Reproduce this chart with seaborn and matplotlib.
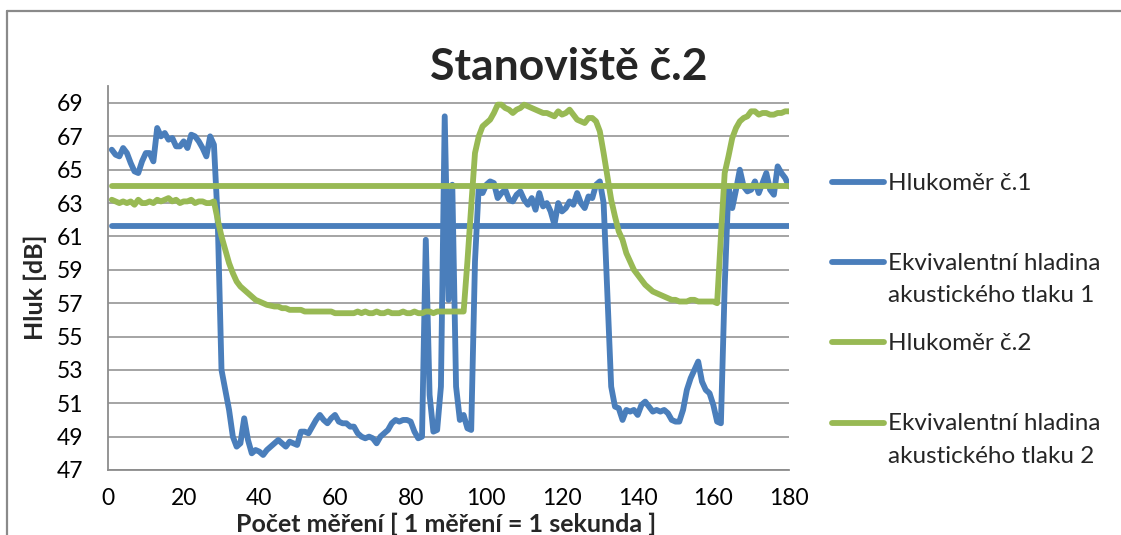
import numpy as np
import pandas as pd
import matplotlib
matplotlib.use("Agg")
import matplotlib.pyplot as plt
from matplotlib.lines import Line2D
import seaborn as sns

# Measurement index (1 measurement = 1 second)
seconds = list(range(1, 181))

# Sound level meter no. 1 [dB]
meter1 = [
    66.2, 65.9, 65.8, 66.3, 66.0, 65.4, 64.9, 64.8, 65.5, 66.0,
    66.0, 65.5, 67.5, 67.0, 67.2, 66.8, 66.9, 66.4, 66.4, 66.7,
    66.3, 67.1, 67.0, 66.7, 66.3, 65.8, 67.0, 66.5, 62.0, 53.0,
    51.8, 50.6, 49.0, 48.4, 48.6, 50.1, 48.8, 48.0, 48.2, 48.1,
    47.9, 48.2, 48.4, 48.6, 48.8, 48.6, 48.4, 48.7, 48.6, 48.5,
    49.3, 49.3, 49.2, 49.6, 50.0, 50.3, 50.0, 49.8, 50.1, 50.3,
    49.9, 49.8, 49.8, 49.6, 49.6, 49.2, 49.0, 48.9, 49.0, 48.9,
    48.6, 49.0, 49.2, 49.4, 49.8, 50.0, 49.9, 50.0, 50.0, 49.9,
    49.3, 48.9, 49.0, 60.8, 51.5, 49.3, 49.4, 52.0, 68.2, 57.2,
    64.1, 52.0, 50.0, 50.3, 49.5, 49.4, 59.5, 64.0, 63.6, 64.1,
    64.3, 64.2, 63.3, 63.6, 63.8, 63.2, 63.1, 63.5, 63.7, 63.2,
    62.9, 63.3, 62.6, 63.6, 62.8, 63.0, 62.5, 61.7, 63.0, 62.5,
    62.7, 63.1, 62.9, 63.6, 63.0, 62.7, 63.4, 63.3, 64.1, 64.3,
    63.0, 57.5, 52.0, 50.8, 50.7, 50.0, 50.6, 50.5, 50.6, 50.3,
    50.9, 51.1, 50.8, 50.5, 50.6, 50.5, 50.6, 50.4, 50.0, 49.9,
    49.9, 50.6, 51.8, 52.5, 53.0, 53.5, 52.3, 51.8, 51.6, 50.9,
    49.9, 49.8, 58.0, 64.0, 62.7, 63.8, 65.0, 64.0, 63.7, 63.8,
    64.3, 63.6, 64.2, 64.8, 63.8, 63.5, 65.2, 64.8, 64.5, 64.0,
]

# Sound level meter no. 2 [dB]
meter2 = [
    63.2, 63.1, 63.0, 63.1, 63.0, 63.1, 62.9, 63.2, 63.0, 63.0,
    63.1, 63.0, 63.2, 63.1, 63.2, 63.3, 63.1, 63.2, 63.0, 63.1,
    63.1, 63.2, 63.0, 63.1, 63.1, 63.0, 63.0, 63.1, 62.0, 61.0,
    60.2, 59.4, 58.8, 58.3, 58.0, 57.8, 57.6, 57.4, 57.2, 57.1,
    57.0, 56.9, 56.85, 56.8, 56.8, 56.7, 56.7, 56.6, 56.6, 56.6,
    56.6, 56.5, 56.5, 56.5, 56.5, 56.5, 56.5, 56.5, 56.5, 56.4,
    56.4, 56.4, 56.4, 56.4, 56.4, 56.5, 56.4, 56.5, 56.4, 56.4,
    56.5, 56.4, 56.4, 56.5, 56.4, 56.4, 56.4, 56.5, 56.4, 56.4,
    56.5, 56.4, 56.4, 56.5, 56.5, 56.4, 56.5, 56.5, 56.5, 56.5,
    56.5, 56.5, 56.5, 56.5, 59.5, 62.8, 66.0, 67.0, 67.6, 67.8,
    68.0, 68.4, 68.9, 68.9, 68.7, 68.6, 68.4, 68.6, 68.7, 68.9,
    68.8, 68.7, 68.6, 68.5, 68.4, 68.4, 68.3, 68.2, 68.5, 68.3,
    68.4, 68.6, 68.3, 68.0, 67.9, 67.8, 68.1, 68.1, 67.9, 67.3,
    66.0, 64.6, 63.2, 62.2, 61.3, 60.8, 60.0, 59.5, 59.0, 58.7,
    58.4, 58.1, 57.9, 57.7, 57.6, 57.5, 57.4, 57.3, 57.2, 57.2,
    57.1, 57.1, 57.1, 57.2, 57.2, 57.1, 57.1, 57.1, 57.1, 57.1,
    57.0, 61.0, 64.8, 65.8, 66.9, 67.5, 67.9, 68.1, 68.2, 68.5,
    68.5, 68.3, 68.4, 68.4, 68.3, 68.3, 68.4, 68.4, 68.5, 68.5,
]

# Equivalent continuous sound pressure levels [dB]
leq1 = 61.6
leq2 = 64.0

series_labels = [
    "Hlukoměr č.1",
    "Ekvivalentní hladina\nakustického tlaku 1",
    "Hlukoměr č.2",
    "Ekvivalentní hladina\nakustického tlaku 2",
]
y_ticks = list(range(47, 70, 2))
x_ticks = list(range(0, 181, 20))

BLUE = "#4a7ebb"
GREEN = "#98b954"
GRID = "#8c8c8c"
FONT = "Lato"

sns.set_theme(style="white")
plt.rcParams["font.family"] = [FONT, "DejaVu Sans"]

df = pd.DataFrame({
    "t": seconds,
    "m1": meter1,
    "leq1": [leq1] * len(seconds),
    "m2": meter2,
    "leq2": [leq2] * len(seconds),
})

fig = plt.figure(figsize=(11.21, 5.35), dpi=100)
ax = fig.add_axes([108 / 1121, 1 - 470 / 535, 681 / 1121, (470 - 86.3) / 535])

lw = 4.2
line_kw = dict(solid_capstyle="round", solid_joinstyle="round")
sns.lineplot(data=df, x="t", y="m1", color=BLUE, lw=lw, ax=ax, **line_kw)
sns.lineplot(data=df, x="t", y="leq1", color=BLUE, lw=lw, ax=ax, **line_kw)
sns.lineplot(data=df, x="t", y="m2", color=GREEN, lw=lw, ax=ax, **line_kw)
sns.lineplot(data=df, x="t", y="leq2", color=GREEN, lw=lw, ax=ax, **line_kw)

ax.set_xlim(0, 180)
ax.set_ylim(47, 70)
ax.set_xticks(x_ticks)
ax.set_yticks(y_ticks)
ax.yaxis.grid(True, color=GRID, lw=1.1)
ax.set_axisbelow(True)
for side in ("top", "right"):
    ax.spines[side].set_visible(False)
for side in ("left", "bottom"):
    ax.spines[side].set_color(GRID)
    ax.spines[side].set_linewidth(1.3)
ax.tick_params(axis="both", length=0, labelsize=16.5, colors="black")
ax.tick_params(axis="y", pad=18)
ax.tick_params(axis="x", pad=13)
ax.set_xlabel("")
ax.set_ylabel("")

# Axis titles
fig.text(446 / 1121, 1 - 524 / 535, "Počet měření [ 1 měření = 1 sekunda ]",
         ha="center", va="center", fontsize=18, fontweight="bold")
fig.text(35 / 1121, 1 - 287 / 535, "Hluk [dB]", rotation=90,
         ha="center", va="center", fontsize=18, fontweight="bold")

# Chart title
fig.text(569 / 1121, 1 - 80 / 535, "Stanoviště č.2", ha="center", va="baseline",
         fontsize=32, fontweight="bold")

# Legend on the right
legend_rows = [182, 262, 342, 423]
legend_colors = [BLUE, BLUE, GREEN, GREEN]
for row, color, label in zip(legend_rows, legend_colors, series_labels):
    yf = 1 - row / 535
    fig.add_artist(Line2D([832 / 1121, 884 / 1121], [yf, yf], color=color,
                          lw=lw, solid_capstyle="round", transform=fig.transFigure))
    fig.text(888 / 1121, yf + 9.5 / 535, label, ha="left", va="top",
             fontsize=17.5, linespacing=1.65)

# Chart area border
fig.add_artist(Line2D([7 / 1121, 7 / 1121], [0, 1 - 10.5 / 535], color="#8a8a8a",
                      lw=1.6, transform=fig.transFigure))
fig.add_artist(Line2D([7 / 1121, 1], [1 - 10.5 / 535, 1 - 10.5 / 535], color="#8a8a8a",
                      lw=1.6, transform=fig.transFigure))

fig.savefig("out.png", dpi=100)
